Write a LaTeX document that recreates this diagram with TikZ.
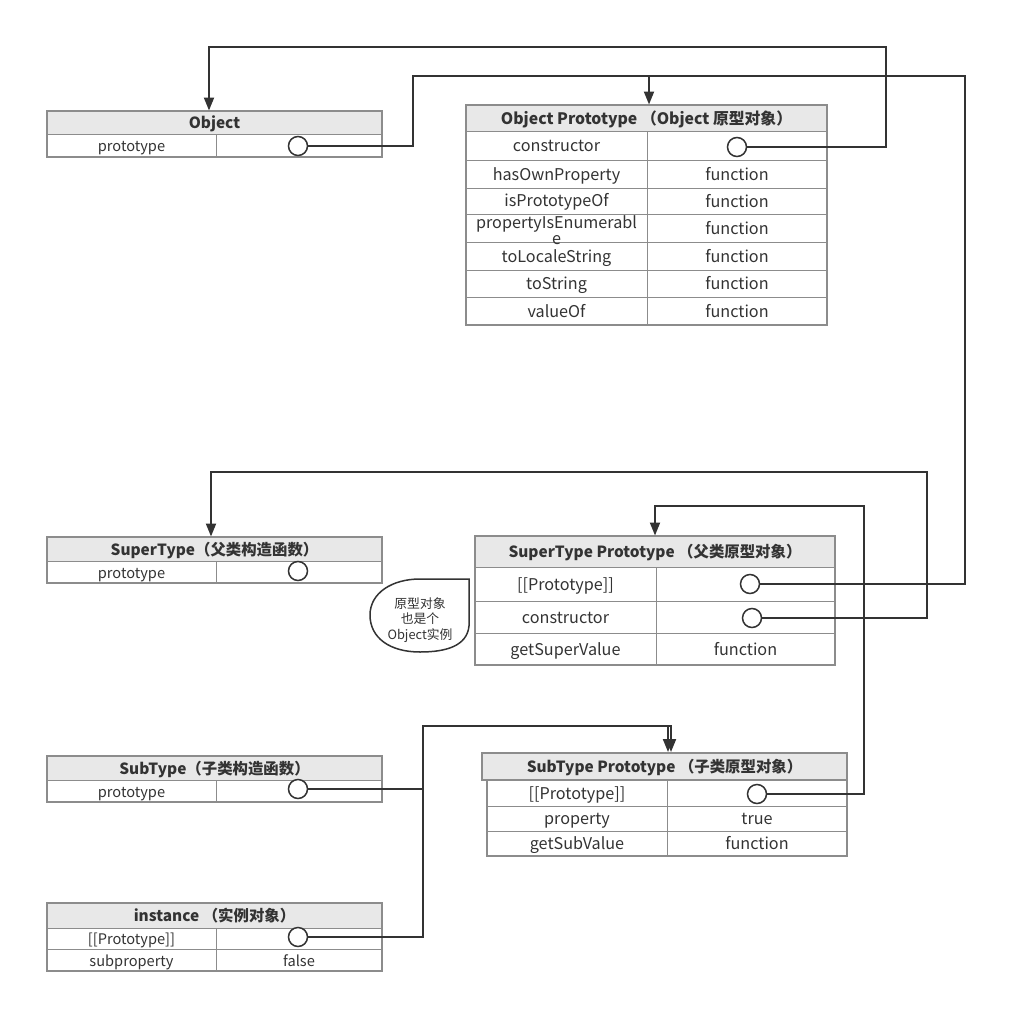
\documentclass[tikz,border=0pt]{standalone}
\usepackage{fontspec}
\setmainfont{Noto Sans CJK SC}
\usetikzlibrary{arrows.meta}
\definecolor{bgray}{HTML}{8C8C8C}
\definecolor{hgray}{HTML}{E8E8E8}
\definecolor{ink}{HTML}{333333}
\newcommand\tc[7][]{\node[cell,#1,minimum width=#5pt,minimum height=#6pt] (#2) at ({#3+#5/2},{#4+#6/2}) {#7};}
\newcommand\fs[1]{\fontsize{#1}{#1}\selectfont}
\begin{document}
\begin{tikzpicture}[x=1pt,y=-1pt,
  cell/.style={draw=bgray,line width=1pt,inner sep=0pt,text=ink,font=\fs{14.6},text height=1.2em,text depth=0pt},
  hdr/.style={fill=hgray,font=\fs{15.4}\bfseries},
  big/.style={font=\fs{16.2}},
  frame/.style={draw=bgray,line width=2pt,fill=none},
  dot/.style={circle,draw=ink,line width=1.5pt,fill=white,minimum size=19pt,inner sep=0pt},
  conn/.style={draw=ink,line width=2pt},
  arr/.style={conn,-{Triangle[length=13pt,width=10pt]}}]
\useasboundingbox (0,0) rectangle (1028,1033);

% Object
\tc[hdr]{objH}{47}{111}{335}{23}{Object}
\tc{objR1a}{47}{134}{169}{23}{prototype}
\tc{objR1b}{216}{134}{166}{23}{}
\tc[frame]{objF}{47}{111}{335}{46}{}
\node[dot] (cObj) at (298,146) {};

% Object Prototype
\tc[hdr,font=\fs{15.8}\bfseries]{opH}{466}{105}{361}{26}{Object Prototype （Object 原型对象）}
\tc[big]{opA1}{466}{131}{181}{29}{constructor}
\tc[big]{opB1}{647}{131}{180}{29}{}
\tc[big]{opA2}{466}{160}{181}{28}{hasOwnProperty}
\tc[big]{opB2}{647}{160}{180}{28}{function}
\tc[big]{opA3}{466}{188}{181}{26}{}
\tc[big]{opB3}{647}{188}{180}{26}{function}
\tc[big]{opA4}{466}{214}{181}{28}{}
\tc[big]{opB4}{647}{214}{180}{28}{function}
\tc[big]{opA5}{466}{242}{181}{28}{toLocaleString}
\tc[big]{opB5}{647}{242}{180}{28}{function}
\tc[big]{opA6}{466}{270}{181}{27}{toString}
\tc[big]{opB6}{647}{270}{180}{27}{function}
\tc[big]{opA7}{466}{297}{181}{28}{valueOf}
\tc[big]{opB7}{647}{297}{180}{28}{function}
\node[text=ink,font=\fs{16.2},text height=1.2em,text depth=0pt,inner sep=0pt] (opT3) at (556.5,200) {isPrototypeOf};
\node[text=ink,font=\fs{16.2},align=center,inner sep=0pt] (opT4) at (556.5,230) {propertyIsEnumerabl\\[0pt]e};
\tc[frame]{opF}{466}{105}{361}{220}{}
\node[dot] (cOPcons) at (737,147) {};

% SuperType
\tc[hdr]{stH}{47}{537}{335}{24}{SuperType（父类构造函数）}
\tc{stA1}{47}{561}{169}{22}{prototype}
\tc{stB1}{216}{561}{166}{22}{}
\tc[frame]{stF}{47}{537}{335}{46}{}
\node[dot] (cSt) at (298,571) {};

% SuperType Prototype
\tc[hdr]{spH}{475}{536}{360}{31}{SuperType Prototype （父类原型对象）}
\tc[big]{spA1}{475}{567}{181}{34}{[[Prototype]]}
\tc[big]{spB1}{656}{567}{179}{34}{}
\tc[big]{spA2}{475}{601}{181}{32}{constructor}
\tc[big]{spB2}{656}{601}{179}{32}{}
\tc[big]{spA3}{475}{633}{181}{32}{getSuperValue}
\tc[big]{spB3}{656}{633}{179}{32}{function}
\tc[frame]{spF}{475}{536}{360}{129}{}
\node[dot] (cSpProto) at (750,584) {};
\node[dot] (cSpCons) at (752,618) {};

% bubble
\draw[ink,line width=1.5pt,fill=white] (469,579) -- (469,626) .. controls (467,646) and (446,652) .. (420,652) .. controls (390,652) and (370,638) .. (370,615) .. controls (370,593) and (392,579) .. (420,579) -- cycle;
\node[text=ink,font=\fs{12.8},align=center,inner sep=0pt] (bubble) at (420,620) {原型对象\\[3pt]也是个\\[3pt]Object实例};

% SubType
\tc[hdr]{sbH}{47}{756}{335}{24}{SubType（子类构造函数）}
\tc{sbA1}{47}{780}{169}{22}{prototype}
\tc{sbB1}{216}{780}{166}{22}{}
\tc[frame]{sbF}{47}{756}{335}{46}{}
\node[dot] (cSub) at (298,789) {};

% instance
\tc[hdr]{inH}{47}{903}{335}{25}{instance （实例对象）}
\tc{inA1}{47}{928}{169}{21}{[[Prototype]]}
\tc{inB1}{216}{928}{166}{21}{}
\tc{inA2}{47}{949}{169}{22}{subproperty}
\tc{inB2}{216}{949}{166}{22}{false}
\tc[frame]{inF}{47}{903}{335}{68}{}
\node[dot] (cInst) at (298,937) {};

% SubType Prototype
\tc[big]{pbA1}{487}{780}{180}{26}{[[Prototype]]}
\tc[big]{pbB1}{667}{780}{180}{26}{}
\tc[big]{pbA2}{487}{806}{180}{25}{property}
\tc[big]{pbB2}{667}{806}{180}{25}{true}
\tc[big]{pbA3}{487}{831}{180}{25}{getSubValue}
\tc[big]{pbB3}{667}{831}{180}{25}{function}
\tc[frame]{pbF}{487}{780}{360}{76}{}
\tc[hdr,frame,fill=hgray]{pbH}{482}{753}{365}{27}{SubType Prototype （子类原型对象）}
\node[dot] (cPbProto) at (757,794) {};

% connectors
\coordinate (j1) at (413,76);
\coordinate (j1r) at (965,76);
\coordinate (j1a) at (649,76);
\draw[conn] (cObj.east) -| (j1) -- (j1r) |- (cSpProto.east);
\draw[arr] (j1a) -- (j1a |- opH.north);

\coordinate (j2) at (886,47);
\coordinate (j2a) at (209,47);
\draw[arr] (cOPcons.east) -| (j2) -- (j2a) -- (j2a |- objH.north);

\coordinate (j3) at (927,472);
\coordinate (j3a) at (211,472);
\draw[arr] (cSpCons.east) -| (j3) -- (j3a) -- (j3a |- stH.north);

\coordinate (j4) at (864,506);
\coordinate (j4a) at (655,506);
\draw[arr] (cPbProto.east) -| (j4) -- (j4a) -- (j4a |- spH.north);

\coordinate (j5) at (423,726);
\coordinate (j5a) at (668,726);
\coordinate (j5b) at (671,726);
\draw[arr] (cSub.east) -| (j5) -- (j5a) -- (j5a |- pbH.north);
\draw[arr] (cInst.east) -| (j5) -- (j5b) -- (j5b |- pbH.north);
\end{tikzpicture}
\end{document}
